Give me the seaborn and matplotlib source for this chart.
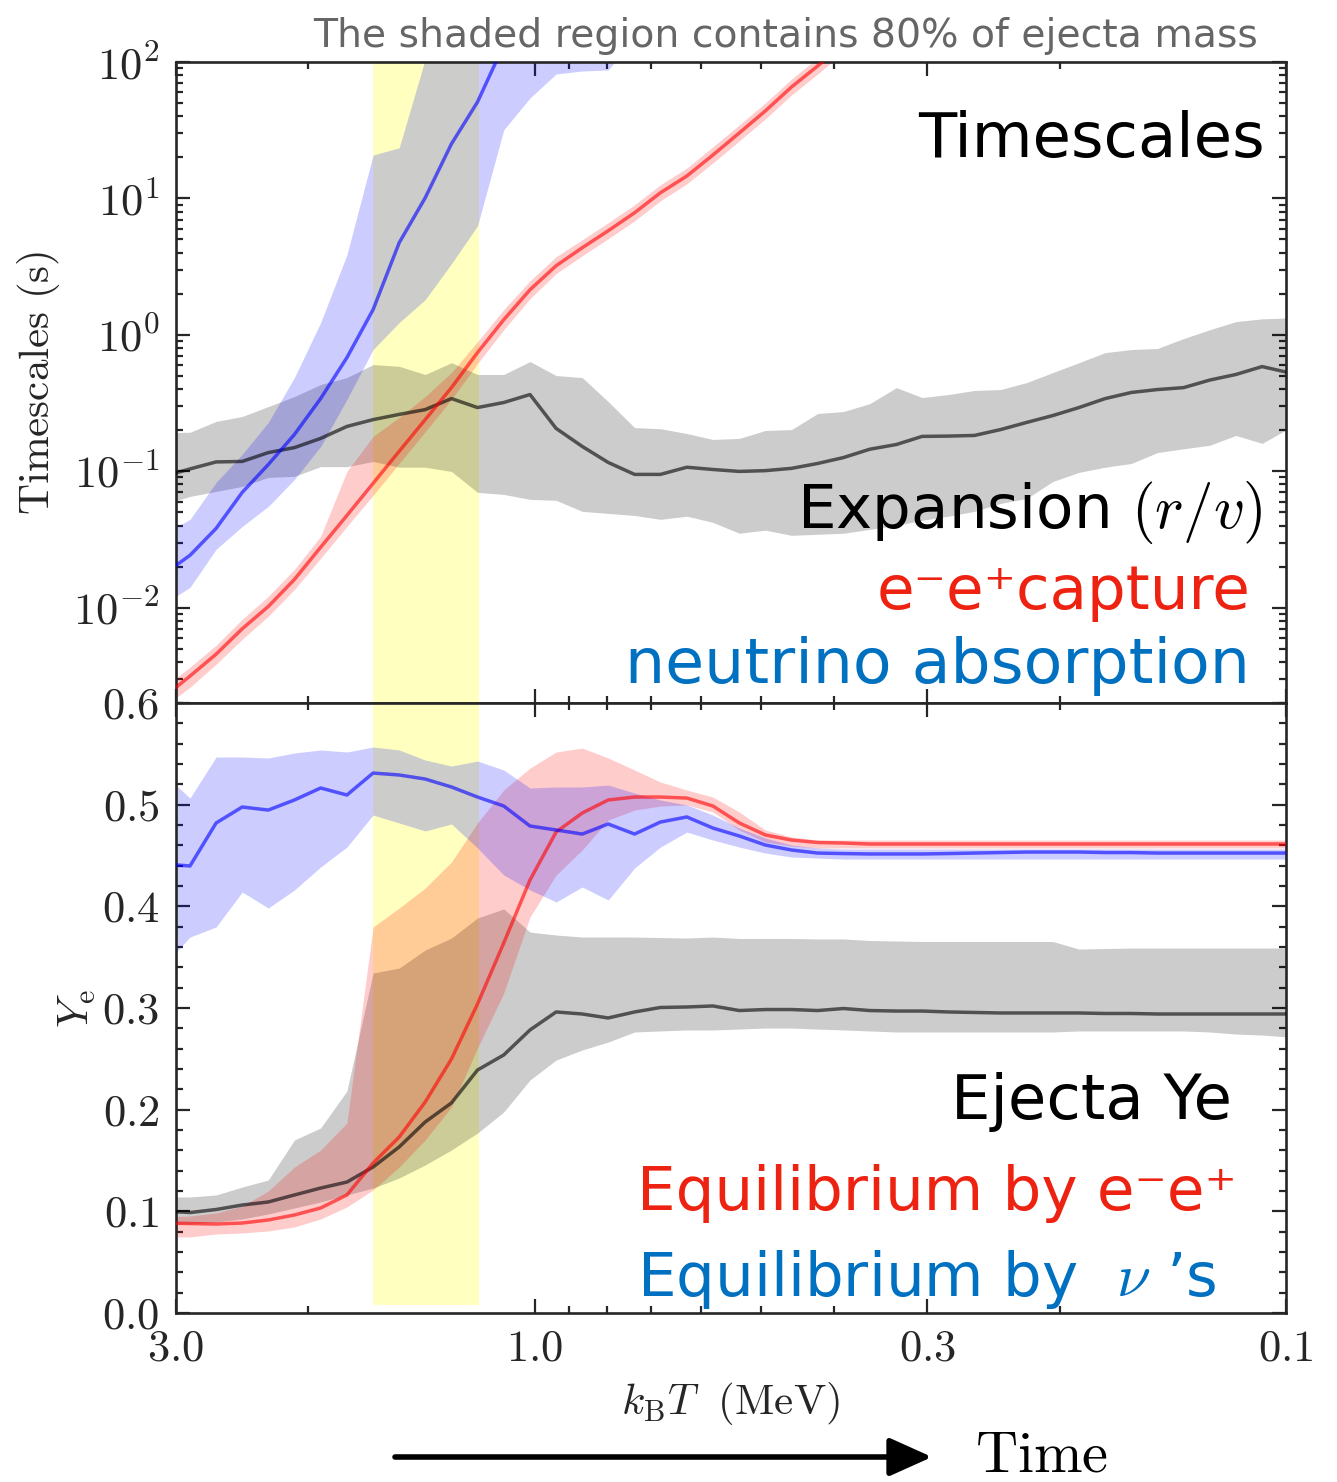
import numpy as np
import matplotlib
matplotlib.use("Agg")
import matplotlib.pyplot as plt
import seaborn as sns
from matplotlib.ticker import FixedLocator, NullFormatter, LogLocator, MultipleLocator

# ---------------- data ----------------
# temperature grid k_B T (MeV)
kT = [3.114, 2.874, 2.653, 2.449, 2.261, 2.087, 1.926, 1.777, 1.640, 1.514,
      1.398, 1.290, 1.191, 1.099, 1.014, 0.936, 0.864, 0.798, 0.736, 0.680,
      0.627, 0.579, 0.534, 0.493, 0.455, 0.420, 0.388, 0.358, 0.330, 0.305,
      0.2814, 0.2598, 0.2398, 0.2213, 0.2043, 0.1886, 0.1740, 0.1606, 0.1483,
      0.1369, 0.1263, 0.1166, 0.1076, 0.0993]

shade_kT = [1.64, 1.186]   # region containing 80% of ejecta mass

# --- timescales (s) ---
t_exp_med = [0.0916, 0.104, 0.117, 0.118, 0.137, 0.149, 0.174, 0.213, 0.239, 0.261,
             0.283, 0.341, 0.293, 0.319, 0.365, 0.206, 0.152, 0.116, 0.0948, 0.0948,
             0.107, 0.103, 0.0997, 0.101, 0.105, 0.114, 0.126, 0.145, 0.157, 0.180,
             0.181, 0.183, 0.202, 0.228, 0.256, 0.293, 0.341, 0.378, 0.397, 0.410,
             0.466, 0.512, 0.585, 0.529]
t_exp_hi = [0.192, 0.193, 0.232, 0.252, 0.298, 0.353, 0.432, 0.486, 0.605, 0.588,
            0.512, 0.625, 0.512, 0.512, 0.637, 0.503, 0.486, 0.324, 0.209, 0.205,
            0.189, 0.171, 0.174, 0.199, 0.202, 0.265, 0.274, 0.313, 0.410, 0.347,
            0.365, 0.391, 0.397, 0.447, 0.529, 0.625, 0.741, 0.780, 0.794, 0.938,
            1.09, 1.25, 1.31, 1.33]
t_exp_lo = [0.0571, 0.0654, 0.0711, 0.0774, 0.0901, 0.0918, 0.108, 0.108, 0.118, 0.107,
            0.107, 0.0997, 0.070, 0.0676, 0.0622, 0.0612, 0.0508, 0.0491, 0.0474, 0.0444,
            0.0468, 0.0422, 0.0351, 0.0370, 0.0339, 0.0345, 0.0351, 0.0375, 0.0401, 0.0437,
            0.0468, 0.0508, 0.0581, 0.0632, 0.0841, 0.0981, 0.107, 0.114, 0.137, 0.146,
            0.155, 0.183, 0.160, 0.205]

t_cap_med = [0.00221, 0.00315, 0.00456, 0.0070, 0.0102, 0.0161, 0.0277, 0.0474, 0.0815, 0.140,
             0.239, 0.410, 0.741, 1.29, 2.14, 3.21, 4.35, 5.79, 7.85, 11.0,
             14.6, 20.8, 30.2, 43.8, 65.6, 93.5, 136, 196]
t_cap_hi = [0.00261, 0.00366, 0.00531, 0.00822, 0.0121, 0.0191, 0.0333, 0.0997, 0.180, 0.248,
            0.353, 0.529, 0.891, 1.53, 2.49, 3.74, 4.98, 6.63, 8.98, 12.6,
            16.7, 23.9, 34.6, 50.1, 75.1, 107, 155, 224]
t_cap_lo = [0.00187, 0.00261, 0.00385, 0.00587, 0.00865, 0.0136, 0.0230, 0.0394, 0.0665, 0.114,
            0.195, 0.336, 0.615, 1.09, 1.84, 2.81, 3.80, 5.06, 6.85, 9.60,
            12.8, 18.2, 26.4, 38.3, 57.3, 81.7, 118, 171]

t_abs_med = [0.0176, 0.0242, 0.0381, 0.0700, 0.112, 0.186, 0.341, 0.681, 1.53, 4.73,
             10.1, 25.1, 50.9, 133, 309]
t_abs_hi = [0.0345, 0.0444, 0.0828, 0.133, 0.228, 0.486, 1.23, 3.86, 20.8, 23.5,
            105, 300, 600, 1000, 1500, 2000, 3000, 4000, 5000]
t_abs_lo = [0.0106, 0.0141, 0.0268, 0.0394, 0.0552, 0.0871, 0.152, 0.336, 0.780, 1.23,
            1.81, 3.32, 6.30, 31.8, 54.5, 81.7, 85.9, 87.4, 150]

# --- electron fraction ---
ye_ej_med = [0.1003, 0.0988, 0.1018, 0.1062, 0.1092, 0.1161, 0.1229, 0.1288, 0.1436, 0.1633,
             0.1879, 0.2066, 0.2390, 0.2538, 0.2784, 0.2961, 0.2941, 0.2902, 0.2961, 0.3005,
             0.3010, 0.3020, 0.2975, 0.2985, 0.2985, 0.2975, 0.2995, 0.2975, 0.2970, 0.2970,
             0.2961, 0.2956, 0.2951, 0.2951, 0.2951, 0.2951, 0.2946, 0.2946, 0.2941, 0.2941,
             0.2941, 0.2941, 0.2941, 0.2941]
ye_ej_hi = [0.1141, 0.1141, 0.1161, 0.1239, 0.1308, 0.1702, 0.1820, 0.2184, 0.3344, 0.3393,
            0.3570, 0.3688, 0.3885, 0.3974, 0.3747, 0.3718, 0.3698, 0.3698, 0.3698, 0.3693,
            0.3688, 0.3698, 0.3684, 0.3684, 0.3684, 0.3679, 0.3679, 0.3664, 0.3659, 0.3654,
            0.3654, 0.3654, 0.3654, 0.3654, 0.3654, 0.3580, 0.3585, 0.3590, 0.3590, 0.3590,
            0.3590, 0.3590, 0.3590, 0.3590]
ye_ej_lo = [0.0875, 0.0875, 0.0895, 0.0925, 0.0974, 0.1033, 0.1092, 0.1161, 0.1229, 0.1328,
            0.1456, 0.1603, 0.1770, 0.1977, 0.2292, 0.2488, 0.2587, 0.2665, 0.2764, 0.2774,
            0.2784, 0.2784, 0.2793, 0.2803, 0.2803, 0.2793, 0.2784, 0.2774, 0.2764, 0.2764,
            0.2764, 0.2764, 0.2764, 0.2764, 0.2764, 0.2774, 0.2774, 0.2774, 0.2774, 0.2774,
            0.2764, 0.2744, 0.2734, 0.2715]

ye_ee_med = [0.0885, 0.0880, 0.0875, 0.0885, 0.0915, 0.0964, 0.1033, 0.1161, 0.1475, 0.1731,
             0.2075, 0.2498, 0.3039, 0.3639, 0.4259, 0.4731, 0.4918, 0.5046, 0.5075, 0.5075,
             0.5065, 0.4987, 0.4820, 0.4702, 0.4652, 0.4628, 0.4623, 0.4613, 0.4613, 0.4613,
             0.4613, 0.4613, 0.4613, 0.4613, 0.4613, 0.4613, 0.4613, 0.4613, 0.4613, 0.4613,
             0.4613, 0.4613, 0.4613, 0.4613]
ye_ee_hi = [0.0944, 0.0954, 0.0984, 0.1052, 0.1200, 0.1436, 0.1603, 0.1869, 0.3797, 0.3983,
            0.4180, 0.4436, 0.4820, 0.5144, 0.5360, 0.5518, 0.5557, 0.5459, 0.5341, 0.5223,
            0.5144, 0.5075, 0.4928, 0.4751, 0.4682, 0.4652, 0.4652, 0.4652, 0.4652, 0.4652,
            0.4652, 0.4652, 0.4652, 0.4652, 0.4652, 0.4652, 0.4652, 0.4652, 0.4652, 0.4652,
            0.4652, 0.4652, 0.4652, 0.4652]
ye_ee_lo = [0.0748, 0.0748, 0.0777, 0.0787, 0.0807, 0.0846, 0.0925, 0.1043, 0.1210, 0.1436,
            0.1702, 0.2026, 0.2606, 0.3147, 0.3895, 0.4308, 0.4554, 0.4849, 0.4947, 0.4987,
            0.4997, 0.4928, 0.4751, 0.4633, 0.4593, 0.4574, 0.4574, 0.4574, 0.4574, 0.4574,
            0.4574, 0.4574, 0.4574, 0.4574, 0.4574, 0.4574, 0.4574, 0.4574, 0.4574, 0.4574,
            0.4574, 0.4574, 0.4574, 0.4574]

ye_nu_med = [0.4416, 0.4397, 0.4820, 0.4977, 0.4947, 0.5046, 0.5164, 0.5095, 0.5311, 0.5292,
             0.5252, 0.5174, 0.5075, 0.4987, 0.4790, 0.4751, 0.4711, 0.4810, 0.4711, 0.4829,
             0.4879, 0.4770, 0.4692, 0.4603, 0.4554, 0.4524, 0.4519, 0.4515, 0.4515, 0.4515,
             0.4519, 0.4524, 0.4529, 0.4534, 0.4534, 0.4534, 0.4529, 0.4529, 0.4524, 0.4524,
             0.4524, 0.4524, 0.4524, 0.4524]
ye_nu_hi = [0.5300, 0.5065, 0.5469, 0.5469, 0.5459, 0.5508, 0.5538, 0.5518, 0.5567, 0.5538,
            0.5439, 0.5380, 0.5429, 0.5341, 0.5164, 0.5174, 0.5174, 0.5193, 0.5115, 0.5046,
            0.4997, 0.4898, 0.4770, 0.4672, 0.4603, 0.4574, 0.4564, 0.4564, 0.4564, 0.4564,
            0.4564, 0.4564, 0.4564, 0.4564, 0.4564, 0.4564, 0.4564, 0.4564, 0.4564, 0.4564,
            0.4564, 0.4564, 0.4564, 0.4564]
ye_nu_lo = [0.3420, 0.3698, 0.3797, 0.4141, 0.3983, 0.4161, 0.4387, 0.4583, 0.4898, 0.4820,
            0.4741, 0.4810, 0.4574, 0.4308, 0.4161, 0.4043, 0.4190, 0.4062, 0.4377, 0.4583,
            0.4731, 0.4652, 0.4583, 0.4524, 0.4485, 0.4475, 0.4465, 0.4465, 0.4465, 0.4465,
            0.4465, 0.4465, 0.4465, 0.4465, 0.4465, 0.4465, 0.4465, 0.4465, 0.4465, 0.4465,
            0.4465, 0.4465, 0.4465, 0.4465]

x_major = [3.0, 1.0, 0.3, 0.1]
x_major_labels = [r"$3.0$", r"$1.0$", r"$0.3$", r"$0.1$"]
x_minor = [2.0, 0.9, 0.8, 0.7, 0.6, 0.5, 0.4, 0.2]
ye_ticks = [0.0, 0.1, 0.2, 0.3, 0.4, 0.5, 0.6]
ye_tick_labels = [r"$0.0$", r"$0.1$", r"$0.2$", r"$0.3$", r"$0.4$", r"$0.5$", r"$0.6$"]

# ---------------- style ----------------
sns.set_style("ticks")
plt.rcParams.update({
    "mathtext.fontset": "cm",
    "font.family": ["cmr10", "DejaVu Serif"],
    "axes.formatter.use_mathtext": True,
    "axes.linewidth": 1.9,
})
SANS = ["DejaVu Sans"]

W, H = 1337, 1482
fig = plt.figure(figsize=(W / 100, H / 100), dpi=100)


def fx(px):
    return px / W


def fy(py):
    return 1 - py / H


L, R, T1, MID, B2 = 176, 1286, 62, 703, 1313
ax1 = fig.add_axes([fx(L), fy(MID), (R - L) / W, (MID - T1) / H])
ax2 = fig.add_axes([fx(L), fy(B2), (R - L) / W, (B2 - MID) / H])

LW = 2.5
ALPHA_LINE = 0.6
ALPHA_BAND = 0.2


def draw(ax, x, med, lo, hi, color):
    n_b = len(lo)
    ax.fill_between(x[:n_b], lo, hi, color=color, alpha=ALPHA_BAND, lw=0, zorder=2)
    n = len(med)
    sns.lineplot(x=x[:n], y=med, ax=ax, color=color, alpha=ALPHA_LINE, lw=LW,
                 estimator=None, sort=False, zorder=3)


for ax in (ax1, ax2):
    ax.set_xscale("log")

ax1.set_yscale("log")

# yellow shaded band
ax1.axvspan(shade_kT[0], shade_kT[1], color="yellow", alpha=0.25, lw=0, zorder=1)
ax2.axvspan(shade_kT[0], shade_kT[1], ymin=0.008 / 0.6, ymax=1.0, color="yellow",
            alpha=0.25, lw=0, zorder=1)

draw(ax1, kT, t_exp_med, t_exp_lo, t_exp_hi, "black")
draw(ax1, kT, t_cap_med, t_cap_lo, t_cap_hi, "red")
draw(ax1, kT, t_abs_med, t_abs_lo, t_abs_hi, "blue")

draw(ax2, kT, ye_ej_med, ye_ej_lo, ye_ej_hi, "black")
draw(ax2, kT, ye_ee_med, ye_ee_lo, ye_ee_hi, "red")
draw(ax2, kT, ye_nu_med, ye_nu_lo, ye_nu_hi, "blue")

for ax in (ax1, ax2):
    ax.set_xlim(3.0, 0.1)
    ax.xaxis.set_major_locator(FixedLocator(x_major))
    ax.xaxis.set_minor_locator(FixedLocator(x_minor))
    ax.xaxis.set_minor_formatter(NullFormatter())
    ax.tick_params(which="both", direction="in", top=True, right=True, width=1.6,
                   labelsize=32)
    ax.tick_params(which="major", length=10, pad=12)
    ax.tick_params(which="minor", length=5)
    ax.set_xlabel("")
    ax.set_ylabel("")
    for s in ax.spines.values():
        s.set_linewidth(1.9)

ax1.set_ylim(2.0e-3, 1e2)
ax1.yaxis.set_major_locator(LogLocator(base=10, numticks=12))
ax1.yaxis.set_minor_locator(LogLocator(base=10, subs=np.arange(2, 10), numticks=12))
ax1.yaxis.set_minor_formatter(NullFormatter())
ax1.tick_params(axis="x", labelbottom=False)

ax2.set_ylim(0, 0.6)
ax2.set_yticks(ye_ticks, labels=ye_tick_labels)
ax2.yaxis.set_minor_locator(MultipleLocator(0.02))
ax2.set_xticks(x_major, labels=x_major_labels)
ax2.xaxis.set_minor_formatter(NullFormatter())

ax1.set_ylabel(r"${\rm Timescales\ (s)}$", fontsize=31)
ax1.yaxis.set_label_coords((62 - L) / (R - L), 0.5)
ax2.set_ylabel(r"$Y_{\rm e}$", fontsize=31)
ax2.yaxis.set_label_coords((98 - L) / (R - L), 0.5)
ax2.set_xlabel(r"$k_{\rm B}T\ \ ({\rm MeV})$", fontsize=31)
ax2.xaxis.set_label_coords((730 - L) / (R - L), -(1380 - B2) / (B2 - MID))

# annotations
fig.text(fx(1258), fy(47), "The shaded region contains 80% of ejecta mass",
         color="#666666", fontsize=28.4, ha="right", va="baseline", family=SANS)
fig.text(fx(1265), fy(157), "Timescales", color="black", fontsize=45,
         ha="right", va="baseline", family=SANS)
fig.text(fx(1262), fy(528), r"Expansion $(r/v)$", color="black", fontsize=44,
         ha="right", va="baseline", family=SANS)
fig.text(fx(1250), fy(609), "e\u207be\u207acapture", color="#ee2211", fontsize=44,
         ha="right", va="baseline", family=SANS)
fig.text(fx(1250), fy(683), "neutrino absorption", color="#0070c0", fontsize=45.5,
         ha="right", va="baseline", family=SANS)
fig.text(fx(1232), fy(1119), "Ejecta Ye", color="black", fontsize=45,
         ha="right", va="baseline", family=SANS)
fig.text(fx(637), fy(1210), "Equilibrium by e\u207be\u207a", color="#ee2211", fontsize=44,
         ha="left", va="baseline", family=SANS)
fig.text(fx(637), fy(1296), "Equilibrium by  $\\nu$ \u2019s", color="#0070c0", fontsize=44,
         ha="left", va="baseline", family=SANS)

fig.text(fx(975), fy(1472), r"$\rm Time$", color="black", fontsize=42,
         ha="left", va="baseline")
ax2.annotate("", xy=(fx(932), fy(1457)), xytext=(fx(395), fy(1457)),
             xycoords="figure fraction", textcoords="figure fraction",
             arrowprops=dict(arrowstyle="-|>,head_length=1.0,head_width=0.45",
                             lw=4, color="black", mutation_scale=26,
                             shrinkA=0, shrinkB=0))

fig.savefig("out.png", dpi=100)
